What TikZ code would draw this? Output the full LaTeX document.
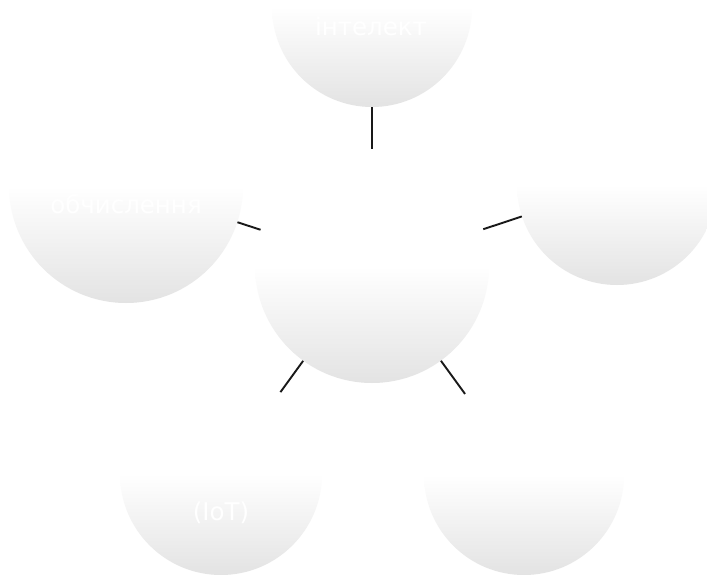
\documentclass[tikz,border=0pt]{standalone}
\usepackage{fontspec}
\setmainfont{DejaVu Sans}
\begin{document}
\begin{tikzpicture}[x=1pt,y=-1pt,
  ball/.style={circle,draw=none,inner sep=0pt,minimum size=#1,
    top color=white,bottom color=black!11,middle color=white},
  txt/.style={text=white,font=\fontsize{24.5}{29}\selectfont,inner sep=0pt,anchor=center},
  link/.style={draw=black!90,line width=1.9pt}]
\useasboundingbox[fill=white] (0,0) rectangle (707,575);
\node[ball=234pt] (c)  at (372,266) {};
\node[ball=200pt] (t)  at (372,7)   {};
\node[ball=234pt] (l)  at (126,186) {};
\node[ball=200pt] (r)  at (617,185) {};
\node[ball=202pt] (bl) at (221,474) {};
\node[ball=200pt] (br) at (524,475) {};
\node[txt] (tt)  at (371,26)  {інтелект};
\node[txt] (lt)  at (126,204) {обчислення};
\node[txt] (blt) at (221,513) {(IoT)};
\draw[link] (c) -- (t);
\draw[link] (c) -- (l);
\draw[link] (c) -- (r);
\draw[link] (c) -- (bl);
\draw[link] (c) -- (br);
\end{tikzpicture}
\end{document}
